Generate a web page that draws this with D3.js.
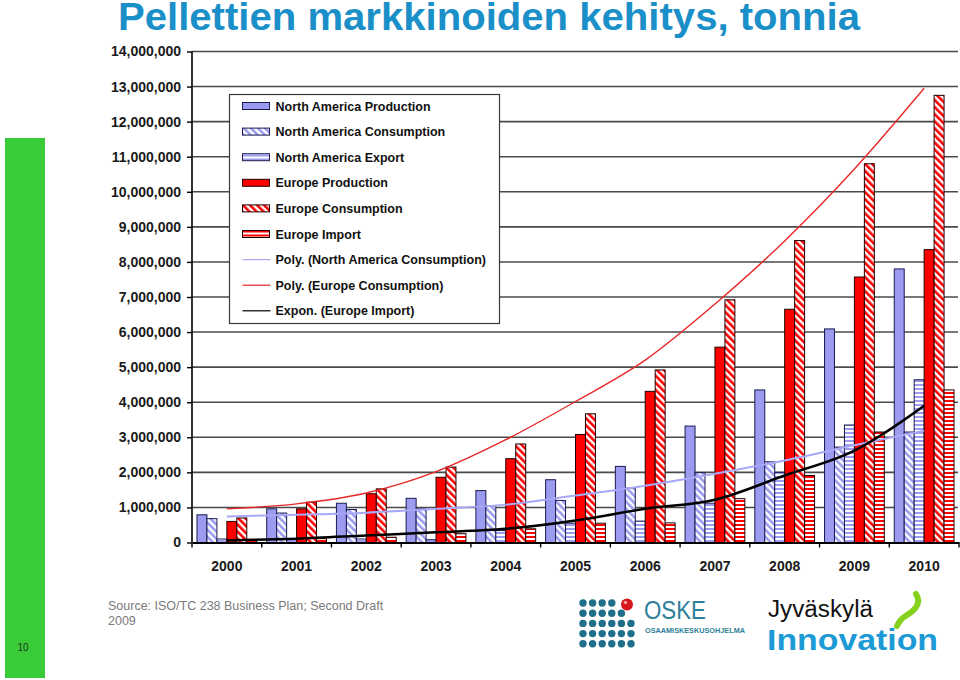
<!DOCTYPE html>
<html>
<head>
<meta charset="utf-8">
<script src="https://cdn.jsdelivr.net/npm/d3@7"></script>
<style>
  html, body { margin: 0; padding: 0; background: #fff; }
  svg { display: block; }
  text { font-family: "Liberation Sans", Arial, sans-serif; }
</style>
</head>
<body>
<svg id="chart" width="960" height="680"></svg>
<script>
// ---------------- DATA ----------------
const years = [2000, 2001, 2002, 2003, 2004, 2005, 2006, 2007, 2008, 2009, 2010];

const naProduction  = [790000, 960000, 1120000, 1260000, 1480000, 1790000, 2170000, 3320000, 4350000, 6090000, 7800000];
const naConsumption = [680000, 840000, 940000, 960000, 1050000, 1200000, 1550000, 1990000, 2300000, 2720000, 3150000];
const naExport      = [100000, 110000, 100000, 80000, 340000, 550000, 610000, 1120000, 2000000, 3350000, 4640000];
const euProduction  = [600000, 960000, 1390000, 1860000, 2390000, 3080000, 4310000, 5570000, 6650000, 7570000, 8350000];
const euConsumption = [700000, 1150000, 1530000, 2150000, 2810000, 3670000, 4920000, 6920000, 8610000, 10800000, 12750000];
const euImport      = [80000, 110000, 150000, 250000, 390000, 550000, 560000, 1250000, 1910000, 3150000, 4350000];

// trend lines at each year
const trendNaConsumption = [740000, 790000, 850000, 960000, 1080000, 1340000, 1620000, 1960000, 2340000, 2770000, 3190000];
const trendEuConsumption = [960000, 1100000, 1410000, 2020000, 2930000, 4020000, 5200000, 6800000, 8600000, 10650000, 12950000];
const trendEuImport      = [60000, 110000, 200000, 290000, 390000, 630000, 960000, 1220000, 1910000, 2620000, 3900000];

const yTicks = [0, 1000000, 2000000, 3000000, 4000000, 5000000, 6000000, 7000000,
                8000000, 9000000, 10000000, 11000000, 12000000, 13000000, 14000000];

const seriesNames = ["North America Production", "North America Consumption", "North America Export",
                     "Europe Production", "Europe Consumption", "Europe Import"];
const trendNames = ["Poly. (North America Consumption)", "Poly. (Europe Consumption)", "Expon. (Europe Import)"];

const titleText = "Pellettien markkinoiden kehitys, tonnia";
const sourceLines = ["Source: ISO/TC 238 Business Plan; Second Draft", "2009"];

// ---------------- SETUP ----------------
const svg = d3.select("#chart");
const plot = { left: 192, right: 959, top: 51.5, bottom: 542.5 };

const defs = svg.append("defs");
function diag(id, color) {
  const p = defs.append("pattern").attr("id", id).attr("patternUnits", "userSpaceOnUse")
    .attr("width", 5).attr("height", 5).attr("patternTransform", "rotate(-45)");
  p.append("rect").attr("width", 5).attr("height", 5).attr("fill", "#fff");
  p.append("rect").attr("width", 2.6).attr("height", 5).attr("fill", color);
}
function horiz(id, color) {
  const p = defs.append("pattern").attr("id", id).attr("patternUnits", "userSpaceOnUse")
    .attr("width", 4).attr("height", 4);
  p.append("rect").attr("width", 4).attr("height", 4).attr("fill", "#fff");
  p.append("rect").attr("width", 4).attr("height", 2).attr("fill", color);
}
const lav = "#9b9bf0", red = "#ff0000";
diag("naDiag", lav); horiz("naHoriz", lav);
diag("euDiag", red); horiz("euHoriz", red);

const fills = [lav, "url(#naDiag)", "url(#naHoriz)", red, "url(#euDiag)", "url(#euHoriz)"];
const strokes = ["#1a1a50", "#1a1a50", "#1a1a50", "#200000", "#200000", "#200000"];
const seriesData = [naProduction, naConsumption, naExport, euProduction, euConsumption, euImport];

const x0 = d3.scaleBand().domain(years).range([plot.left, plot.right]).paddingInner(0).paddingOuter(0);
const x1 = d3.scaleBand().domain(d3.range(seriesNames.length)).range([0, x0.bandwidth()])
  .paddingInner(0).paddingOuter(0.5);
const y = d3.scaleLinear().domain([0, 14000000]).range([plot.bottom, plot.top]);

// ---------------- DECORATIONS ----------------
svg.append("rect").attr("x", 5).attr("y", 138).attr("width", 40).attr("height", 540).attr("fill", "#3acb38");
svg.append("text").attr("x", 23).attr("y", 651).attr("text-anchor", "middle")
  .attr("font-size", 10).attr("fill", "#1a3a1a").text("10");

svg.append("text").attr("x", 118).attr("y", 30)
  .attr("font-family", "'Liberation Sans Narrow', 'Arial Narrow', 'Liberation Sans', Arial, sans-serif")
  .attr("font-weight", "bold").attr("font-size", 39).attr("fill", "#1b8fc8")
  .attr("textLength", 742).attr("lengthAdjust", "spacingAndGlyphs")
  .text(titleText);

// ---------------- GRID ----------------
svg.append("g").selectAll("line").data(yTicks.filter(d => d > 0)).join("line")
  .attr("x1", plot.left).attr("x2", plot.right - 1)
  .attr("y1", d => y(d)).attr("y2", d => y(d))
  .attr("stroke", "#4a4a4a").attr("stroke-width", 1.6);

// ---------------- BARS ----------------
const groups = svg.append("g").selectAll("g").data(years).join("g")
  .attr("transform", d => `translate(${x0(d)},0)`);
groups.selectAll("rect").data((yr, i) => seriesData.map((s, k) => ({ k, v: s[i] }))).join("rect")
  .attr("x", d => x1(d.k)).attr("width", x1.bandwidth())
  .attr("y", d => y(d.v)).attr("height", d => y(0) - y(d.v))
  .attr("fill", d => fills[d.k]).attr("stroke", d => strokes[d.k]).attr("stroke-width", 1);

// ---------------- TRENDS ----------------
const cx = d => x0(d) + x0.bandwidth() / 2;
function trend(values, color, width) {
  svg.append("path").datum(values)
    .attr("d", d3.line().x((v, i) => cx(years[i])).y(v => y(v)).curve(d3.curveMonotoneX))
    .attr("fill", "none").attr("stroke", color).attr("stroke-width", width);
}
trend(trendNaConsumption, "#a8a8f8", 2);
trend(trendEuConsumption, "#e82828", 1.4);
trend(trendEuImport, "#000", 2.5);

// ---------------- AXES ----------------
const yAxis = svg.append("g").attr("transform", `translate(${plot.left},0)`)
  .call(d3.axisLeft(y).tickValues(yTicks).tickFormat(d3.format(",")).tickSize(5).tickPadding(6));
yAxis.select(".domain").attr("stroke", "#000").attr("stroke-width", 1.6).attr("d", `M0,${plot.top}V${plot.bottom}`);
yAxis.selectAll(".tick line").attr("stroke", "#000").attr("stroke-width", 1.4);
yAxis.selectAll("text").attr("font-size", 14).attr("font-weight", "bold").attr("fill", "#1a1a1a")
  .attr("font-family", "'Liberation Sans', Arial, sans-serif");

const xAxis = svg.append("g").attr("transform", `translate(0,${plot.bottom})`)
  .call(d3.axisBottom(x0).tickSize(0).tickPadding(19));
xAxis.select(".domain").attr("stroke", "#000").attr("stroke-width", 2);
xAxis.selectAll("text").attr("font-size", 14).attr("font-weight", "bold").attr("fill", "#1a1a1a")
  .attr("font-family", "'Liberation Sans', Arial, sans-serif");
svg.append("g").selectAll("line").data(years.concat([null])).join("line")
  .attr("x1", (d, i) => i < years.length ? x0(d) : plot.right)
  .attr("x2", (d, i) => i < years.length ? x0(d) : plot.right)
  .attr("y1", plot.bottom).attr("y2", plot.bottom + 5)
  .attr("stroke", "#000").attr("stroke-width", 1.4);

// ---------------- LEGEND ----------------
const lg = svg.append("g").attr("transform", "translate(229.5,94.5)");
lg.append("rect").attr("width", 270).attr("height", 229).attr("fill", "#fff").attr("stroke", "#3a3a3a").attr("stroke-width", 1.2);
const rowY = i => 11.5 + i * 25.6;
seriesNames.forEach((name, k) => {
  lg.append("rect").attr("x", 13).attr("y", rowY(k) - 3.5).attr("width", 27).attr("height", 7)
    .attr("fill", fills[k]).attr("stroke", strokes[k]).attr("stroke-width", 1);
  lg.append("text").attr("x", 46).attr("y", rowY(k) + 4.5).attr("font-size", 12.5).attr("font-weight", "bold")
    .attr("fill", "#111").text(name);
});
const trendColors = ["#a8a8f8", "#e82828", "#000"];
trendNames.forEach((name, j) => {
  const i = j + 6;
  lg.append("line").attr("x1", 13).attr("x2", 41).attr("y1", rowY(i)).attr("y2", rowY(i))
    .attr("stroke", trendColors[j]).attr("stroke-width", 1.2);
  lg.append("text").attr("x", 46).attr("y", rowY(i) + 4.5).attr("font-size", 12.5).attr("font-weight", "bold")
    .attr("fill", "#111").text(name);
});

// ---------------- SOURCE ----------------
sourceLines.forEach((t, i) => {
  svg.append("text").attr("x", 108).attr("y", 610 + i * 15).attr("font-size", 12.5).attr("fill", "#7a7a7a").text(t);
});

// ---------------- LOGOS ----------------
const oske = svg.append("g");
const dotRows = [4, 5, 6, 6, 6];
dotRows.forEach((n, r) => {
  d3.range(n).forEach(c => {
    oske.append("circle").attr("cx", 583 + c * 9.6).attr("cy", 603 + r * 10.2).attr("r", 3.7).attr("fill", "#1f6f8b");
  });
});
oske.append("circle").attr("cx", 627).attr("cy", 604.5).attr("r", 6).attr("fill", "#d8161e");
oske.append("circle").attr("cx", 625.5).attr("cy", 602.5).attr("r", 1.8).attr("fill", "#f4a0a0");
oske.append("text").attr("x", 644).attr("y", 619).attr("font-size", 25).attr("font-weight", "300")
  .attr("font-family", "'Open Sans', 'Liberation Sans', sans-serif").attr("fill", "#2d8099")
  .attr("textLength", 62).attr("lengthAdjust", "spacingAndGlyphs").text("OSKE");
oske.append("text").attr("x", 645).attr("y", 633).attr("font-size", 7.5).attr("font-weight", "bold")
  .attr("fill", "#2d8099").attr("textLength", 100).attr("lengthAdjust", "spacingAndGlyphs").text("OSAAMISKESKUSOHJELMA");

const jy = svg.append("g");
jy.append("text").attr("x", 768).attr("y", 617).attr("font-size", 23).attr("fill", "#111")
  .attr("font-family", "'Open Sans', 'Liberation Sans', sans-serif")
  .attr("textLength", 105).attr("lengthAdjust", "spacingAndGlyphs").text("Jyväskylä");
jy.append("text").attr("x", 767).attr("y", 650).attr("font-size", 29).attr("font-weight", "bold")
  .attr("font-family", "'Open Sans', 'Liberation Sans', sans-serif").attr("fill", "#1c9ad6")
  .attr("textLength", 171).attr("lengthAdjust", "spacingAndGlyphs").text("Innovation");
jy.append("path").attr("d", "M916,594 C921,602 917,609 907,615 C902,618 899,621 897,626")
  .attr("fill", "none").attr("stroke", "#86d11c").attr("stroke-width", 6).attr("stroke-linecap", "round");
</script>
</body>
</html>
